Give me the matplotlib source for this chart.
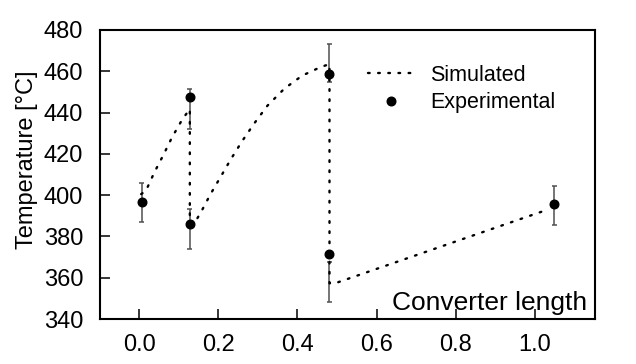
import matplotlib
matplotlib.use("Agg")
import matplotlib.pyplot as plt
import numpy as np

# --- Data ---
sim_x = [0.005, 0.017, 0.038, 0.061, 0.083, 0.109, 0.128, 0.128, 0.143, 0.156,
         0.180, 0.206, 0.232, 0.260, 0.291, 0.324, 0.367, 0.412, 0.457, 0.481,
         0.481, 0.495, 1.034]
sim_y = [400.5, 402.1, 410.9, 419.4, 428.0, 436.7, 441.7, 383.2, 387.5, 391.7,
         400.4, 408.9, 417.5, 426.1, 434.8, 443.3, 451.6, 457.9, 461.9, 463.5,
         357.3, 357.3, 393.1]

exp_x = [0.006, 0.128, 0.128, 0.481, 0.481, 1.049]
exp_y = [396.8, 447.5, 386.0, 458.8, 371.5, 395.8]
err_lo = [387.0, 432.2, 373.9, 454.7, 348.4, 385.6]
err_hi = [405.9, 451.3, 393.2, 473.4, 367.4, 404.6]

yticks = [340, 360, 380, 400, 420, 440, 460, 480]
xticks = [0.0, 0.2, 0.4, 0.6, 0.8, 1.0]
# -------------------------------------

plt.rcParams["font.family"] = ["Liberation Sans", "DejaVu Sans"]

fig = plt.figure(figsize=(6.36, 3.64), dpi=100)
ax = fig.add_axes([0.157, 0.1236, 0.7785, 0.794])

# error bars (some sit off-centre from their point, so drawn from their own range)
cap = 0.006
xs = np.array(exp_x)
ax.vlines(xs, err_lo, err_hi, color="#505050", linewidth=1.1, zorder=2)
ax.hlines(err_lo, xs - cap, xs + cap, color="#505050", linewidth=1.1, zorder=2)
ax.hlines(err_hi, xs - cap, xs + cap, color="#505050", linewidth=1.1, zorder=2)

ax.plot(sim_x, sim_y, color="black", linewidth=1.7, linestyle=(0, (0.7, 3.6)),
        dash_capstyle="round", label="Simulated", zorder=3)
ax.plot(exp_x, exp_y, linestyle="none", marker="o", markersize=6.2,
        color="black", label="Experimental", zorder=4)

ax.set_xlim(-0.0994, 1.152)
ax.set_ylim(340, 480)
ax.set_xticks(xticks)
ax.set_yticks(yticks)
ax.set_xticklabels([f"{v:.1f}" for v in xticks])
ax.tick_params(direction="in", length=7, width=1.1, labelsize=17, pad=11)
ax.tick_params(axis="y", pad=12)
for s in ax.spines.values():
    s.set_linewidth(1.5)

ax.set_ylabel("Temperature [°C]", fontsize=17)
ax.yaxis.set_label_coords(-0.125, 0.55)
ax.text(0.985, 0.015, "Converter length", transform=ax.transAxes,
        ha="right", va="bottom", fontsize=19)

ax.legend(loc="upper left", bbox_to_anchor=(0.541, 0.88), frameon=False,
          fontsize=15.5, borderpad=0, handlelength=2.2, handletextpad=0.7,
          labelspacing=0.3, borderaxespad=0)

fig.savefig("out.png", dpi=100)
